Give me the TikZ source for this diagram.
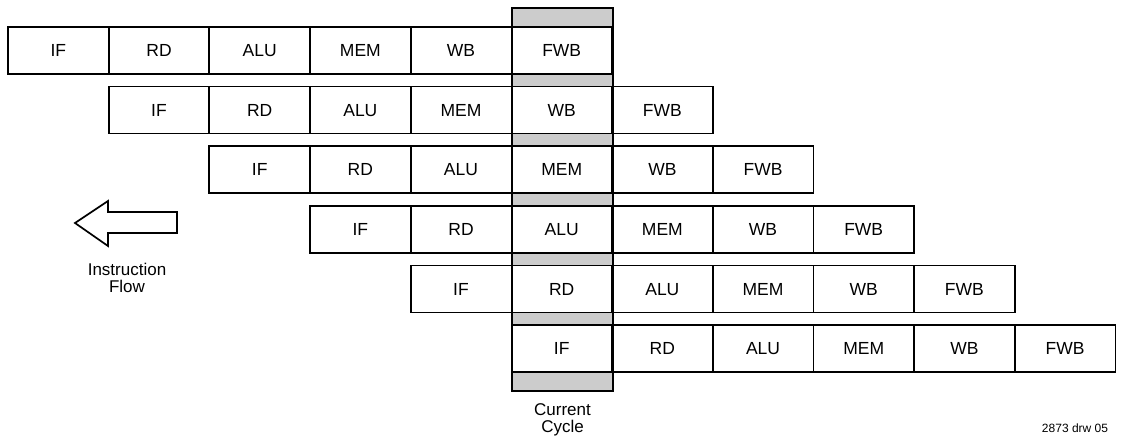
\documentclass[tikz,border=0pt]{standalone}
\usepackage{fontspec}
\setmainfont{Liberation Sans}
\tikzset{
  cell/.style={draw, line width=1.7pt, fill=white, anchor=north west,
    minimum width=100.67pt, minimum height=47pt, inner sep=0pt, outer sep=0pt,
    text height=12.5pt, text depth=0pt,
    font=\fontsize{17.5}{19}\selectfont},
  lbl/.style={align=center, font=\fontsize{17}{17}\selectfont, inner sep=0pt},
  stip/.style={fill=black!20},
}
\begin{document}
\begin{tikzpicture}[x=1pt,y=-1pt]
\useasboundingbox (0,0) rectangle (1121,439);
% current cycle column background
\fill[stip] (512,8) rectangle (613,391);
\foreach \r in {1,...,6}{
  \foreach \s [count=\c] in {IF,RD,ALU,MEM,WB,FWB}{
    \pgfmathsetmacro{\xx}{8+(\r+\c-2)*100.67}
    \pgfmathsetmacro{\yy}{27+(\r-1)*59.6}
    \node[cell] (r\r c\c) at (\xx,\yy) {\s};
  }
}
\draw[line width=1.7pt] (512,8) rectangle (613,391);
\node[lbl, anchor=north] (cc) at (562.5,403) {Current\\Cycle};
% instruction flow arrow
\draw[line width=1.7pt, line join=miter] (75,223) -- (108,201) -- (108,212) -- (177,212) -- (177,233) -- (108,233) -- (108,246) -- cycle;
\node[lbl, anchor=north] (flow) at (127,263) {Instruction\\Flow};
\node[inner sep=0pt, font=\fontsize{12}{12}\selectfont] (drw) at (1075,428) {2873 drw 05};
\end{tikzpicture}
\end{document}
